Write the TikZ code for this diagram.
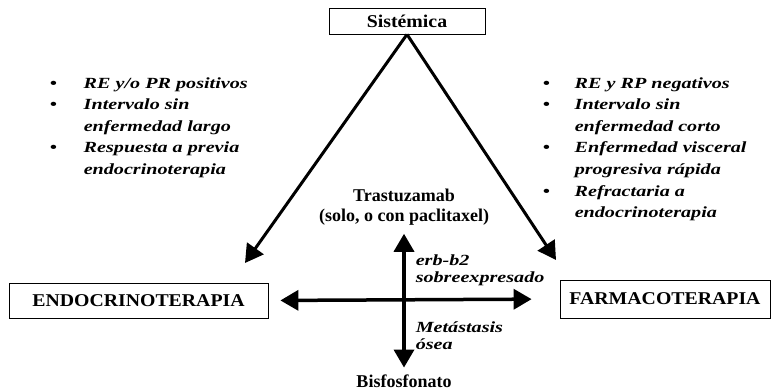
\documentclass[tikz,border=0pt]{standalone}
\usepackage{fontspec}
\setmainfont{Liberation Serif}
\newfontfamily\anchafont[FakeStretch=1.3]{Liberation Serif}
\newfontfamily\cajafont[FakeStretch=1.1]{Liberation Serif}
\usetikzlibrary{arrows.meta}

\tikzset{
  caja/.style={draw, line width=0.8pt, inner sep=0pt, font=\cajafont\bfseries\fontsize{18}{20}\selectfont},
  lista/.style={inner sep=0pt, anchor=base west, font=\anchafont\bfseries\itshape\fontsize{15.5}{21.6}\selectfont},
  nota/.style={inner sep=0pt, anchor=base west, font=\anchafont\bfseries\itshape\fontsize{15.5}{17.5}\selectfont},
  farmaco/.style={inner sep=2pt, font=\bfseries\fontsize{18}{20}\selectfont}
}

\begin{document}
\begin{tikzpicture}[x=1pt, y=-1pt, >={Triangle[length=18pt,width=20pt]}, line width=3.5pt]
\useasboundingbox (0,0) rectangle (774,391);

% Cajas
\node[caja, minimum width=156pt, minimum height=26pt] (sis) at (407,21) {Sistémica};
\node[caja, minimum width=259pt, minimum height=35pt] (endo) at (138.5,300.5) {ENDOCRINOTERAPIA};
\node[caja, minimum width=210pt, minimum height=38pt] (farma) at (665,299) {FARMACOTERAPIA};

% Listas
\node[lista] (izq) at (48,88) {\begin{tabular}[t]{@{}p{34pt}@{}l@{}}
\textbullet & RE y/o PR positivos\\
\textbullet & Intervalo sin\\
 & enfermedad largo\\
\textbullet & Respuesta a previa\\
 & endocrinoterapia
\end{tabular}};
\node[lista] (der) at (541,88) {\begin{tabular}[t]{@{}p{32pt}@{}l@{}}
\textbullet & RE y RP negativos\\
\textbullet & Intervalo sin\\
 & enfermedad corto\\
\textbullet & Enfermedad visceral\\
 & progresiva rápida\\
\textbullet & Refractaria a\\
 & endocrinoterapia
\end{tabular}};

% Farmacos
\node[farmaco, anchor=base] (trast) at (404,201) {\begin{tabular}[t]{@{}c@{}}
Trastuzamab\\[0pt]
(solo, o con paclitaxel)
\end{tabular}};
\node[farmaco, anchor=base] (bisf) at (404,387) {Bisfosfonato};
\node[nota] (erb) at (414,265) {\begin{tabular}[t]{@{}l@{}}erb-b2\\ sobreexpresado\end{tabular}};
\node[nota] (meta) at (414,332) {\begin{tabular}[t]{@{}l@{}}Metástasis\\ ósea\end{tabular}};

\coordinate (endotip) at (245,263);
\coordinate (farmatip) at (556,260);

\draw[->, line width=3pt] (sis.south) -- (endotip);
\draw[->, line width=3pt] (sis.south) -- (farmatip);
\draw[<->, shorten <=12pt, shorten >=28pt] (endo.east) -- (farma.west);
\draw[<->, shorten <=3pt, shorten >=3pt] (trast.south) -- (bisf.north);
\end{tikzpicture}
\end{document}
